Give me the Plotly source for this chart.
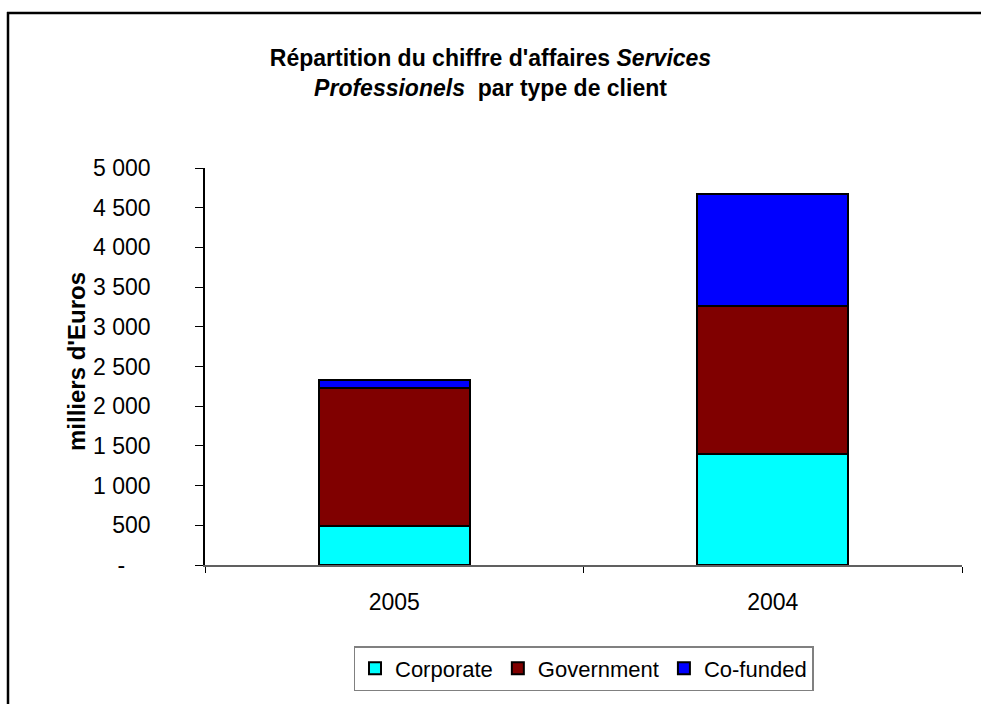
import plotly.graph_objects as go

years = ["2005", "2004"]
corporate = [495, 1400]
government = [1730, 1862]
cofunded = [105, 1407]
series_names = ["Corporate", "Government", "Co-funded"]
series_colors = ["#00FFFF", "#800000", "#0000FF"]
y_tickvals = [0, 500, 1000, 1500, 2000, 2500, 3000, 3500, 4000, 4500, 5000]
y_ticktext = ["-\u2007\u2007", "500", "1 000", "1 500", "2 000", "2 500",
              "3 000", "3 500", "4 000", "4 500", "5 000"]

FONT = "Arial, Liberation Sans, sans-serif"
FS = 23

fig = go.Figure()
for name, vals, col in zip(series_names, [corporate, government, cofunded], series_colors):
    fig.add_trace(go.Bar(
        x=years, y=vals, name=name,
        marker=dict(color=col, line=dict(color="black", width=2)),
    ))

W, H = 981, 704
L, R, T, B = 205, 19, 168, 139
pw, ph = W - L - R, H - T - B

def px_x(x):
    return (x - L) / pw

def px_y(y):
    return (H - B - y) / ph

fig.update_layout(
    width=W, height=H, autosize=False,
    margin=dict(l=L, r=R, t=T, b=B, pad=0),
    barmode="stack", bargap=0.6,
    paper_bgcolor="white", plot_bgcolor="white",
    font=dict(family=FONT, size=FS, color="black"),
    title=dict(
        text="<b>Répartition du chiffre d'affaires <i>Services</i><br><i>Professionels</i>  par type de client</b>",
        x=0.5, xref="container", xanchor="center",
        y=1 - 66 / H, yref="container", yanchor="top",
        font=dict(family=FONT, size=FS, color="black"),
    ),
    xaxis=dict(
        showline=True, linecolor="#606060", linewidth=1.5,
        ticks="outside", tickson="boundaries", ticklen=6, tickcolor="black",
        showgrid=False, zeroline=False,
        tickfont=dict(size=FS), ticklabelstandoff=16,
    ),
    yaxis=dict(
        range=[0, 5000], tickvals=y_tickvals, ticktext=y_ticktext,
        showline=True, linecolor="black", linewidth=1.5,
        ticks="outside", ticklen=8, tickcolor="black",
        showgrid=False, zeroline=False,
        tickfont=dict(size=FS), ticklabelstandoff=40,
    ),
    legend=dict(
        orientation="h", x=0.5, xanchor="center",
        y=px_y(646), yanchor="top",
        bordercolor="#808080", borderwidth=1.5,
        font=dict(size=FS - 1), itemwidth=30, traceorder="normal",
    ),
    annotations=[dict(
        text="<b>milliers d'Euros</b>", textangle=-90,
        xref="paper", yref="paper", x=px_x(76), y=px_y(362),
        xanchor="center", yanchor="middle", showarrow=False,
        font=dict(family=FONT, size=FS + 1, color="black"),
    )],
    shapes=[
        dict(type="line", xref="paper", yref="paper",
             x0=px_x(8), x1=px_x(8), y0=px_y(12), y1=px_y(720),
             line=dict(color="black", width=2.5)),
        dict(type="line", xref="paper", yref="paper",
             x0=px_x(7), x1=px_x(1000), y0=px_y(13), y1=px_y(13),
             line=dict(color="black", width=2.5)),
    ],
)

fig.write_html("out.html")
